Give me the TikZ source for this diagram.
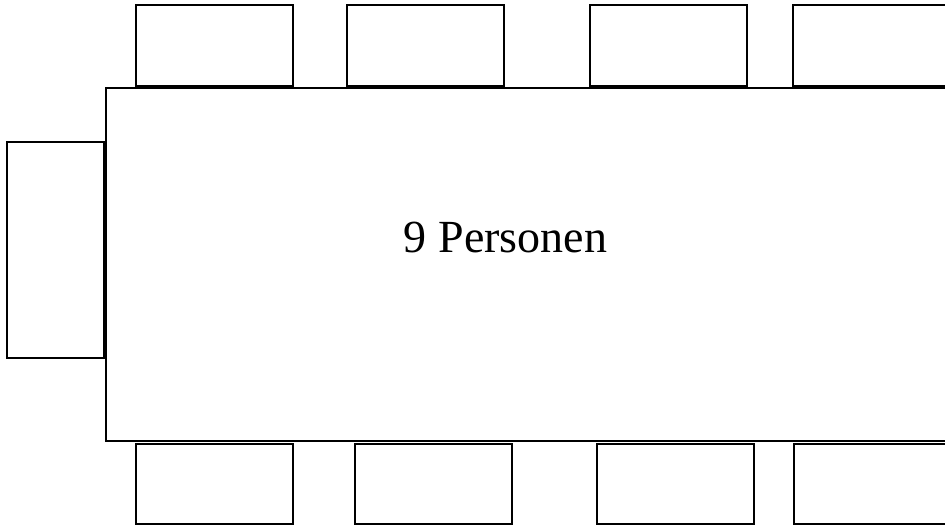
\documentclass[tikz,border=0pt]{standalone}
\usepackage{fontspec}
\setmainfont{Liberation Serif}
\begin{document}
\begin{tikzpicture}[x=1pt,y=-1pt,
  furn/.style={draw=black,line width=2pt,rectangle,inner sep=0pt,fill=white},
  chairH/.style={furn,minimum width=157pt,minimum height=81pt},
  chairL/.style={furn,minimum width=97pt,minimum height=216pt}]
\useasboundingbox (0,0) rectangle (945,528);
\clip (0,0) rectangle (945,528);
\node[furn,minimum width=854pt,minimum height=353pt] (table) at (533,264.5) {};
\node[chairH] (t1) at (214.5,45.5) {};
\node[chairH] (t2) at (425.5,45.5) {};
\node[chairH] (t3) at (668,45.5) {};
\node[chairH] (t4) at (871.5,45.5) {};
\node[chairH,minimum height=80pt] (b1) at (214.5,484) {};
\node[chairH,minimum height=80pt] (b2) at (433.5,484) {};
\node[chairH,minimum height=80pt] (b3) at (675.5,484) {};
\node[chairH,minimum height=80pt] (b4) at (872.5,484) {};
\node[chairL] (l1) at (55.5,250) {};
\node[anchor=base,inner sep=0pt,font=\fontsize{46}{50}\selectfont] (label) at (505.5,252) {9 Personen};
\end{tikzpicture}
\end{document}
